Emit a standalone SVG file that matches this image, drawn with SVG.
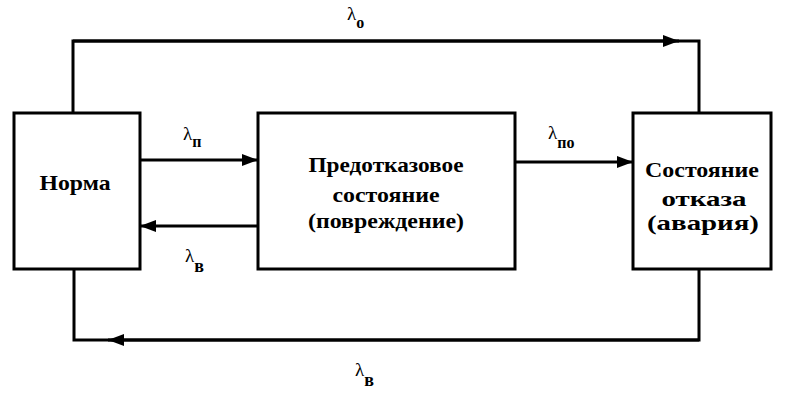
<svg xmlns="http://www.w3.org/2000/svg" width="787" height="404" viewBox="0 0 787 404">
<defs>
<style>
.box{fill:#fff;stroke:#000;stroke-width:3}
.ln{fill:none;stroke:#000;stroke-width:3}
</style>
<marker id="ar" markerWidth="16" markerHeight="12" refX="16" refY="6" orient="auto" markerUnits="userSpaceOnUse">
<path d="M0,0 L16,6 L0,12 Z" fill="#000"/>
</marker>
</defs>
<rect width="787" height="404" fill="#fff"/>
<g id="connectors">
<path class="ln" d="M73,113 V41 H699 V113"/>
<path class="ln" d="M73,41 H679" marker-end="url(#ar)"/>
<path class="ln" d="M699,269 V340 H74 V269"/>
<path class="ln" d="M699,340 H108" marker-end="url(#ar)"/>
<path class="ln" d="M140,160 H258" marker-end="url(#ar)"/>
<path class="ln" d="M258,226 H140" marker-end="url(#ar)"/>
<path class="ln" d="M515,162 H633" marker-end="url(#ar)"/>
<text x="347" y="20" style="font-family:'Liberation Serif',serif;font-size:19px">λ<tspan font-size="16" font-weight="bold" dy="8">о</tspan></text>
<text x="183" y="140" style="font-family:'Liberation Serif',serif;font-size:19px">λ<tspan font-size="16" font-weight="bold" dy="7">п</tspan></text>
<text x="185" y="262" style="font-family:'Liberation Serif',serif;font-size:19px">λ<tspan font-size="18" font-weight="bold" dy="10">в</tspan></text>
<text x="355" y="376" style="font-family:'Liberation Serif',serif;font-size:19px">λ<tspan font-size="18" font-weight="bold" dy="10">в</tspan></text>
<text x="548" y="139" style="font-family:'Liberation Serif',serif;font-size:19px">λ<tspan font-size="16" font-weight="bold" dy="9">по</tspan></text>
</g>
<g id="norma">
<rect class="box" x="14" y="113" width="126" height="156"/>
<text x="75" y="190" text-anchor="middle" textLength="71" lengthAdjust="spacingAndGlyphs" style="font-family:'Liberation Serif',serif;font-size:22px;font-weight:bold">Норма</text>
</g>
<g id="predotkaz">
<rect class="box" x="258" y="113" width="257" height="156"/>
<text x="386" y="172" text-anchor="middle" textLength="155" lengthAdjust="spacingAndGlyphs" style="font-family:'Liberation Serif',serif;font-size:22px;font-weight:bold">Предотказовое</text>
<text x="386" y="202" text-anchor="middle" textLength="107" lengthAdjust="spacingAndGlyphs" style="font-family:'Liberation Serif',serif;font-size:22px;font-weight:bold">состояние</text>
<text x="386" y="228" text-anchor="middle" textLength="156" lengthAdjust="spacingAndGlyphs" style="font-family:'Liberation Serif',serif;font-size:22px;font-weight:bold">(повреждение)</text>
</g>
<g id="otkaz">
<rect class="box" x="633" y="113" width="138" height="156"/>
<text x="702" y="177" text-anchor="middle" textLength="114" lengthAdjust="spacingAndGlyphs" style="font-family:'Liberation Serif',serif;font-size:22px;font-weight:bold">Состояние</text>
<text x="704" y="206" text-anchor="middle" textLength="85" lengthAdjust="spacingAndGlyphs" style="font-family:'Liberation Serif',serif;font-size:22px;font-weight:bold">отказа</text>
<text x="703" y="230" text-anchor="middle" textLength="112" lengthAdjust="spacingAndGlyphs" style="font-family:'Liberation Serif',serif;font-size:22px;font-weight:bold">(авария)</text>
</g>
</svg>
